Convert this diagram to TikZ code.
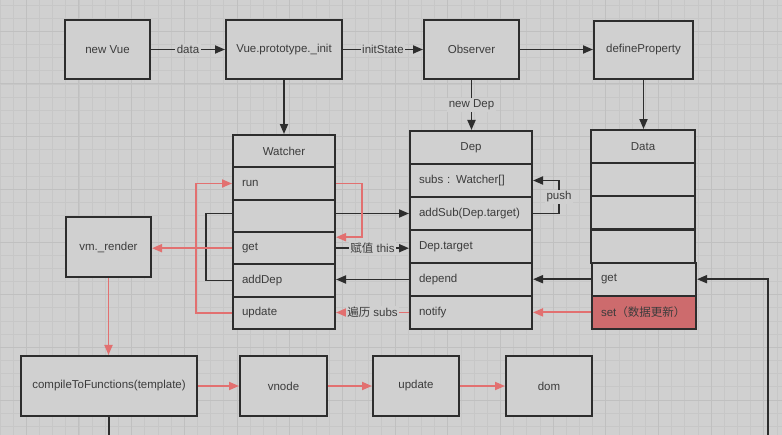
\documentclass[tikz,border=0pt]{standalone}
\usepackage{fontspec}
\setmainfont{Liberation Sans}
\newfontfamily\cjk{Noto Sans CJK SC}
\usetikzlibrary{arrows.meta,calc}
\definecolor{bgc}{RGB}{208,208,208}
\definecolor{gridc}{RGB}{199,199,199}
\definecolor{gridm}{RGB}{192,192,192}
\definecolor{linec}{RGB}{45,45,45}
\definecolor{txtc}{RGB}{60,60,60}
\definecolor{redl}{RGB}{226,112,112}
\definecolor{redf}{RGB}{205,107,109}
\begin{document}
\begin{tikzpicture}[x=1pt,y=-1pt,
  font=\fontsize{11.5}{13}\selectfont, text=txtc,
  box/.style={draw=linec, line width=2pt, fill=bgc, inner sep=0pt, minimum height=59pt},
  row/.style={draw=linec, line width=2pt, fill=bgc, inner xsep=9pt, inner ysep=0pt, align=left},
  wrow/.style={row, text width=84pt, minimum height=32.33pt},
  drow/.style={row, text width=104pt, minimum height=33pt},
  arow/.style={row, text width=86pt, minimum height=33.17pt},
  conn/.style={line width=1.8pt, draw=linec},
  arr/.style={conn, -{Triangle[length=10pt,width=8pt]}},
  rarr/.style={arr, draw=redl},
  lab/.style={fill=bgc, inner sep=1.5pt, text=txtc}
]
\useasboundingbox (0,0) rectangle (782,435);
\fill[bgc] (0,0) rectangle (782,435);
\begin{scope}
\clip (0,0) rectangle (782,435);
\foreach \i in {-2,...,58} {\draw[gridc, line width=0.8pt] ({26.3+13.17*\i},0) -- ++(0,435);}
\foreach \i in {-3,...,31} {\draw[gridc, line width=0.8pt] (0,{31.3+13.17*\i}) -- ++(782,0);}
\foreach \i in {-1,...,14} {\draw[gridm, line width=1pt] ({26.3+52.68*\i},0) -- ++(0,435);}
\foreach \i in {-1,...,8} {\draw[gridm, line width=1pt] (0,{31.3+52.68*\i}) -- ++(782,0);}
\end{scope}

% top row
\node[box, minimum width=85pt] (newvue) at (107.5,49.5) {new Vue};
\node[box, minimum width=116pt] (init) at (284,49.5) {Vue.prototype.\_init};
\node[box, minimum width=95pt] (observer) at (471.5,49.5) {Observer};
\node[box, minimum width=99pt, minimum height=58pt] (defprop) at (643.5,50) {defineProperty};

% Watcher
\node[wrow, align=center] (wh) at (284,151.2) {Watcher};
\node[wrow] (wrun) at (284,183.5) {run};
\node[wrow] (wblank) at (284,215.8) {};
\node[wrow] (wget) at (284,248.2) {get};
\node[wrow] (wadd) at (284,280.5) {addDep};
\node[wrow] (wupd) at (284,312.8) {update};

% Dep
\node[drow, align=center] (dh) at (471,147.5) {Dep};
\node[drow] (dsubs) at (471,180.5) {subs : Watcher[]};
\node[drow] (dadd) at (471,213.5) {addSub(Dep.target)};
\node[drow] (dtarget) at (471,246.5) {Dep.target};
\node[drow] (ddepend) at (471,279.5) {depend};
\node[drow] (dnotify) at (471,312.5) {notify};

% Data
\node[arow, align=center] (ah) at (643,146.6) {Data};
\node[arow] (a1) at (643,179.8) {};
\node[arow] (a2) at (643,212.9) {};
\node[arow] (a3) at (643,246.1) {};
\node[arow] (aget) at (644,279.2) {get};
\node[arow, fill=redf] (aset) at (644,312.4) {set{\cjk （数据更新）}};

% render pipeline
\node[box, minimum width=85pt, minimum height=60pt] (vm) at (108.5,247) {vm.\_render};
\node[box, minimum width=176pt, minimum height=60pt] (comp) at (109,386) {compileToFunctions(template)};
\node[box, minimum width=87pt, minimum height=60pt] (vnode) at (283.5,386) {vnode};
\node[box, minimum width=86pt, minimum height=60pt] (upd) at (416,386) {update};
\node[box, minimum width=86pt, minimum height=60pt] (dom) at (549,386) {dom};

\coordinate (bl) at (109,435);
\coordinate (br) at (768,435);

% connectors top
\draw[arr] (newvue) -- node[lab]{data} (init);
\draw[arr] (init) -- node[lab]{initState} (observer);
\draw[arr] (observer.east) -- (observer.east -| defprop.west);
\draw[arr] (init) -- (wh);
\draw[arr] (observer.south) -- node[lab]{new Dep} (observer.south |- dh.north);
\draw[arr] (defprop.south) -- (defprop.south |- ah.north);

% Watcher <-> Dep
\draw[arr] (dadd.west -| wblank.east) -- (dadd.west);
\draw[arr] (dadd.east) -- ++(26,0) |- node[pos=0.25, lab]{push} (dsubs.east);
\draw[arr] (wget.east) -- node[lab]{{\cjk 赋值} this} (wget.east -| dtarget.west);
\draw[arr] (ddepend.west) -- (ddepend.west -| wadd.east);
\draw[rarr] (dnotify.west) -- node[lab]{{\cjk 遍历} subs} (dnotify.west -| wupd.east);
\draw[arr] (aget.west) -- (aget.west -| ddepend.east);
\draw[rarr] (aset.west) -- (aset.west -| dnotify.east);

% loops around Watcher
\draw[rarr] (wrun.east) -- ++(26,0) |- ([yshift=11pt]wget.east);
\draw[rarr] (wupd.west) -- ++(-36,0) |- (wrun.west);
\draw[conn] (wblank.west |- dadd.west) -- ++(-26,0) |- (wadd.west);

% render flow
\draw[rarr] (wget.west) -- (wget.west -| vm.east);
\draw[rarr] (vm.south) -- (vm.south |- comp.north);
\draw[rarr] (comp) -- (vnode);
\draw[rarr] (vnode) -- (upd);
\draw[rarr] (upd) -- (dom);
\draw[conn] (comp.south) -- (bl);
\draw[arr] (br) |- (aget.east);
\end{tikzpicture}
\end{document}
